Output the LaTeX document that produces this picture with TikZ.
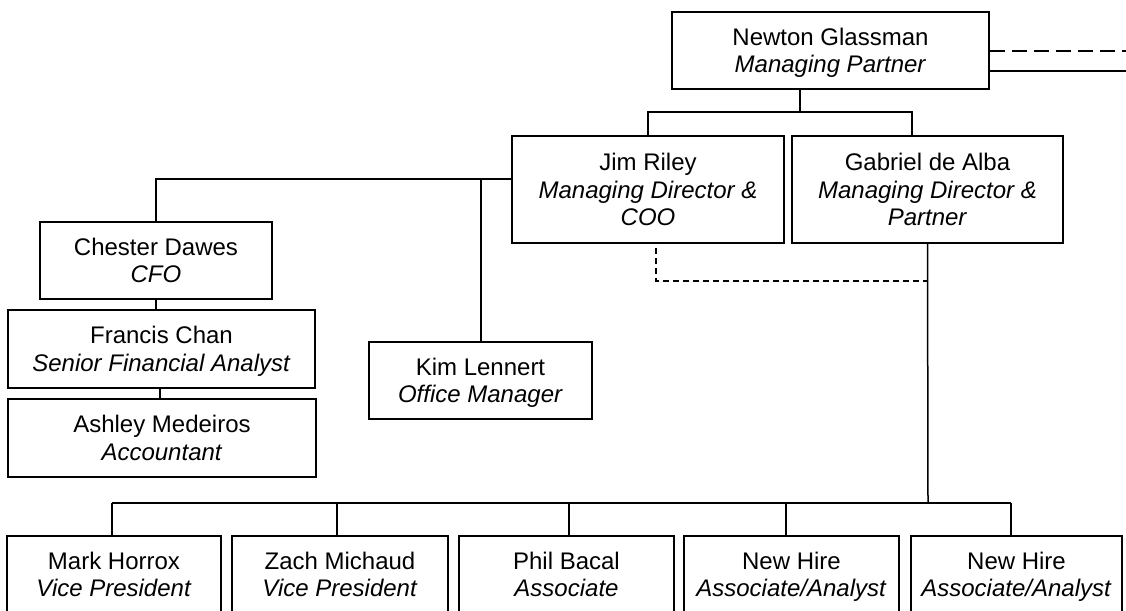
\documentclass[tikz,border=0pt]{standalone}
\usepackage{fontspec}
\setmainfont{Liberation Sans}
\newcommand{\boxfont}{\fontsize{24}{27.6}\selectfont}
% struts that keep every box's text block at the same height
\newcommand{\hi}{\rule{0pt}{25.5pt}}
\newcommand{\lo}{\rule[-8.5pt]{0pt}{8.5pt}}
\begin{document}
\begin{tikzpicture}[x=1pt,y=-1pt,
  box/.style={draw, line width=1.6pt, inner sep=0pt, align=center, font=\boxfont},
  link/.style={line width=1.5pt},
  dotlink/.style={line width=1.4pt, dash pattern=on 6pt off 4pt},
  duelink/.style={line width=1.5pt, dash pattern=on 15pt off 7pt}]
\clip (0,0) rectangle (1126,610);
\fill[white] (0,0) rectangle (1126,610);

% senior management
\node[box, minimum width=317pt, minimum height=77pt] (newton) at (830.5,50.5)
  {\hi Newton Glassman\\\textit{Managing Partner}\lo};
\node[box, minimum width=272pt, minimum height=107pt] (jim) at (648,189.5)
  {\hi Jim Riley\\\textit{Managing Director \&}\\\textit{COO}\lo};
\node[box, minimum width=271pt, minimum height=107pt] (gabriel) at (927.5,189.5)
  {\hi Gabriel de Alba\\\textit{Managing Director \&}\\\textit{Partner}\lo};

% finance and office
\node[box, minimum width=232pt, minimum height=77pt] (chester) at (156,260.5)
  {\hi Chester Dawes\\\textit{CFO}\lo};
\node[box, minimum width=307pt, minimum height=78pt] (francis) at (161.5,349)
  {\hi Francis Chan\\\textit{Senior Financial Analyst}\lo};
\node[box, minimum width=308pt, minimum height=78pt] (ashley) at (162,438)
  {\hi Ashley Medeiros\\\textit{Accountant}\lo};
\node[box, minimum width=223pt, minimum height=77pt] (kim) at (480.5,380.5)
  {\hi Kim Lennert\\\textit{Office Manager}\lo};

% investment team
\node[box, minimum width=214pt, minimum height=77pt] (mark) at (114,574.5)
  {\hi Mark Horrox\\\textit{Vice President}\lo};
\node[box, minimum width=216pt, minimum height=77pt] (zach) at (340,574.5)
  {\hi Zach Michaud\\\textit{Vice President}\lo};
\node[box, minimum width=215pt, minimum height=77pt] (phil) at (566.5,574.5)
  {\hi Phil Bacal\\\textit{Associate}\lo};
\node[box, minimum width=215pt, minimum height=77pt] (hireA) at (791.5,574.5)
  {\hi New Hire\\\textit{Associate/Analyst}\lo};
\node[box, minimum width=211pt, minimum height=77pt] (hireB) at (1016.5,574.5)
  {\hi New Hire\\\textit{Associate/Analyst}\lo};

% junction points
\coordinate (nsplit) at (800,112);
\coordinate (jtop) at (648,112);
\coordinate (gtop) at (912,112);
\coordinate (lbus) at (156,179);
\coordinate (kbus) at (481,179);
\coordinate (dcorner) at (656,281);
\coordinate (bus) at (928,503);
\coordinate (bmark) at (112,503);
\coordinate (bzach) at (337,503);
\coordinate (bphil) at (569,503);
\coordinate (bhireA) at (786,503);
\coordinate (bhireB) at (1011,503);
\coordinate (offdash) at (1130,51);
\coordinate (offsolid) at (1130,71);

% reporting lines
\draw[link] (newton.south -| nsplit) -- (nsplit);
\draw[link] (jim.north -| jtop) -- (jtop) -- (gtop) -- (gabriel.north -| gtop);
\draw[link] (jim.west |- lbus) -- (lbus) -- (chester.north -| lbus);
\draw[link] (kbus) -- (kim.north -| kbus);
\draw[link] (chester.south) -- (francis.north -| chester.south);
\draw[link] (francis.south -| 160,0) -- (ashley.north -| 160,0);
\draw[link] (gabriel.south) -- (bus);
\draw[link] (bmark) -- (bhireB);
\draw[link] (bmark) -- (mark.north -| bmark);
\draw[link] (bzach) -- (zach.north -| bzach);
\draw[link] (bphil) -- (phil.north -| bphil);
\draw[link] (bhireA) -- (hireA.north -| bhireA);
\draw[link] (bhireB) -- (hireB.north -| bhireB);
\draw[dotlink] ([yshift=-4pt]jim.south -| dcorner) |- (gabriel.south |- dcorner);
\draw[duelink] (newton.east |- offdash) -- (offdash);
\draw[link] (newton.east |- offsolid) -- (offsolid);
\end{tikzpicture}
\end{document}
